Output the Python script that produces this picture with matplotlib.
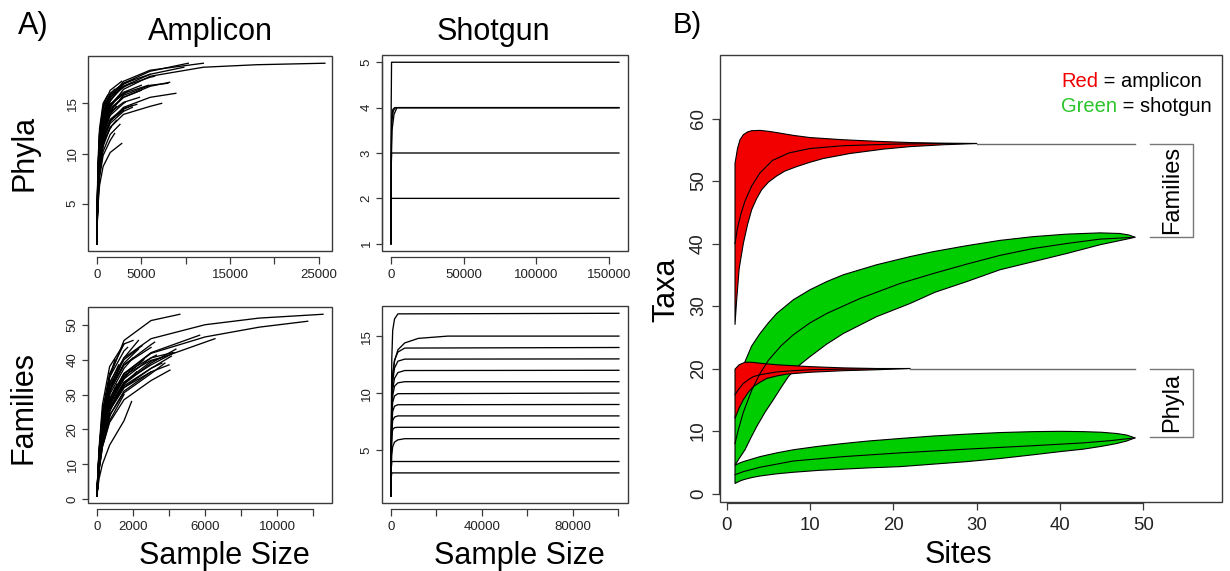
import matplotlib
matplotlib.use('Agg')
import matplotlib.pyplot as plt
from matplotlib.patches import Rectangle

plt.rcParams['font.family'] = ['Liberation Sans', 'DejaVu Sans']

# ---------------- Panel A data (rarefaction curves) ----------------
amp_phyla_x = [
    [0, 40, 120, 300, 700, 1500, 3000, 6000, 12000, 18000, 25700],
    [0, 40, 120, 300, 700, 1500, 3000, 6000, 12000],
    [0, 40, 120, 300, 700, 1500, 3000, 6000, 10300],
    [0, 40, 120, 300, 700, 1500, 3000, 6000, 8000],
    [0, 40, 120, 300, 700, 1500, 3000, 6000, 8900],
    [0, 40, 120, 300, 700, 1500, 3000, 6000, 7300],
    [0, 40, 120, 300, 700, 1500, 2800],
    [0, 40, 120, 300, 700, 1500, 2000],
    [0, 40, 120, 300, 700, 1500, 2200],
    [0, 40, 120, 300, 700, 1500, 3000],
    [0, 40, 120, 300, 700, 1500, 3000, 5000],
    [0, 40, 120, 300, 700, 1500, 3000, 6000, 6500],
    [0, 40, 120, 300, 700, 1500, 3000, 4200],
    [0, 40, 120, 300, 700, 1500, 3000, 3500],
    [0, 40, 120, 300, 700, 1500],
    [0, 40, 120, 300, 700, 1300],
    [0, 40, 120, 300, 700, 1500, 1800],
    [0, 40, 120, 300, 700, 1500, 3000, 4800],
    [0, 40, 120, 300, 700, 1500, 3000, 5800],
    [0, 40, 120, 300, 700, 1500, 3000, 4500],
    [0, 40, 120, 300, 700, 1500, 3000, 3200],
    [0, 40, 120, 300, 700, 1500, 1600],
    [0, 40, 120, 300, 700, 1200],
    [0, 40, 120, 300, 700, 1500, 3000, 3800],
    [0, 40, 120, 300, 700, 1500, 3000, 6000, 9800],
    [0, 40, 120, 300, 700, 1500, 2800],
    [0, 40, 120, 300, 700, 1500, 3000, 4000],
    [0, 40, 120, 300, 700, 1500, 2600],
    [0, 40, 120, 300, 700, 1000],
    [0, 40, 120, 300, 700, 1500, 3000, 6000],
    [0, 40, 120, 300, 700, 1500, 3000, 6000, 8200],
    [0, 40, 120, 300, 700, 1500, 3000, 5000],
    [0, 40, 120, 300, 700, 1200],
    [0, 40, 120, 300, 700, 1500, 2400],
    [0, 40, 120, 300, 700, 1000],
    [0, 40, 120, 300, 700, 1500, 2000],
    [0, 40, 120, 300, 700, 1500, 3000, 4000],
    [0, 40, 120, 300, 700, 900],
    [0, 40, 120, 300, 700, 1500, 2200],
    [0, 40, 120, 300, 600],
]
amp_phyla_y = [
    [1, 3.5, 6.2, 9.2, 12, 14.6, 16.4, 17.7, 18.6, 18.85, 19],
    [1, 4, 7, 10.5, 13.5, 15.5, 17.2, 18.3, 19],
    [1, 3.8, 6.6, 10, 13, 15.2, 17, 18.2, 19],
    [1, 3.6, 6.3, 9.3, 12, 14.2, 15.8, 16.8, 17],
    [1, 3.4, 6, 8.8, 11.3, 13.2, 14.6, 15.6, 16],
    [1, 3.2, 5.6, 8.3, 10.7, 12.6, 13.9, 14.7, 15],
    [1, 2.8, 4.7, 6.8, 8.7, 10.1, 11],
    [1, 3, 5.2, 7.6, 9.8, 11.3, 12],
    [1, 3.3, 5.8, 8.6, 11, 12.6, 13.3],
    [1, 3.5, 6.2, 9.2, 11.6, 13.3, 14.3],
    [1, 3.8, 6.8, 10, 12.7, 14.5, 15.6, 16.3],
    [1, 4.2, 7.4, 11, 13.8, 15.6, 16.7, 17.6, 17.7],
    [1, 4.2, 7.5, 11.2, 14, 15.8, 16.9, 17.4],
    [1, 4, 7, 10.5, 13.2, 14.9, 15.9, 16.2],
    [1, 4.5, 8, 11.5, 13.8, 15.3],
    [1, 4, 6.8, 9.8, 12, 13.4],
    [1, 4, 7, 10.2, 12.6, 14.1, 14.5],
    [1, 3.6, 6.4, 9.6, 12.3, 14.1, 15.1, 15.6],
    [1, 3.7, 6.6, 10, 12.8, 14.8, 16, 16.8],
    [1, 3.4, 6, 9, 11.6, 13.4, 14.5, 14.9],
    [1, 3.6, 6.4, 9.5, 12, 13.8, 15, 15.1],
    [1, 3.4, 6, 8.8, 11, 12.5, 12.6],
    [1, 5, 9, 12.5, 15, 15.8],
    [1, 4.2, 7.4, 11, 13.8, 15.6, 16.6, 17],
    [1, 4, 7, 10.5, 13.3, 15.3, 16.7, 17.9, 18.6],
    [1, 4.6, 8.2, 12, 14.7, 16.3, 17.2],
    [1, 3.4, 6, 9, 11.5, 13.3, 14.4, 14.8],
    [1, 3, 5.3, 7.9, 10.2, 11.9, 12.9],
    [1, 3.8, 6.6, 9.6, 11.8, 12.8],
    [1, 4.5, 8, 11.8, 14.5, 16, 17, 17.9],
    [1, 3.6, 6.4, 9.6, 12.4, 14.3, 15.6, 16.7, 17.1],
    [1, 3.8, 6.8, 10.2, 13, 14.9, 16.1, 16.8],
    [1, 4.2, 7.6, 11.2, 13.8, 14.9],
    [1, 3.8, 6.8, 10.3, 13, 14.8, 15.7],
    [1, 3.2, 5.6, 8.4, 10.8, 11.8],
    [1, 4.4, 7.8, 11.6, 14.2, 15.9, 16.4],
    [1, 3.3, 5.8, 8.7, 11.3, 13, 14.2, 14.6],
    [1, 4.6, 8.2, 12, 14.6, 15.2],
    [1, 3.6, 6.4, 9.4, 12, 13.9, 14.7],
    [1, 3.6, 6.5, 9.5, 11.5],
]

amp_fam_x = [
    [0, 40, 120, 300, 700, 1500, 3000, 6000, 9000, 12550],
    [0, 40, 120, 300, 700, 1500, 3000, 6000, 9000, 11700],
    [0, 40, 120, 300, 700, 1500, 3000, 4600],
    [0, 40, 120, 300, 700, 1500, 3000, 6000, 6550],
    [0, 40, 120, 300, 700, 1500, 3000, 5700],
    [0, 40, 120, 300, 700, 1500, 3000, 4050],
    [0, 40, 120, 300, 700, 1500, 1920],
    [0, 40, 120, 300, 700, 1500, 3000, 4380],
    [0, 40, 120, 300, 700, 1500, 3000, 4290],
    [0, 40, 120, 300, 700, 1500, 3000, 4130],
    [0, 40, 120, 300, 700, 1500, 3000, 3770],
    [0, 40, 120, 300, 700, 1500, 3000, 3200],
    [0, 40, 120, 300, 700, 1500, 2300],
    [0, 40, 120, 300, 700, 1500],
    [0, 40, 120, 300, 700, 1300],
    [0, 40, 120, 300, 700, 1200],
    [0, 40, 120, 300, 700, 1100],
    [0, 40, 120, 300, 700, 1500, 2600],
    [0, 40, 120, 300, 700, 1500, 3000, 3600],
    [0, 40, 120, 300, 700, 1500, 3000],
    [0, 40, 120, 300, 700, 1500],
    [0, 40, 120, 300, 700, 1500, 2300],
    [0, 40, 120, 300, 700, 1500, 2000],
    [0, 40, 120, 300, 700, 1000],
    [0, 40, 120, 300, 700, 1500, 1800],
    [0, 40, 120, 300, 700, 1500, 3000, 4200],
    [0, 40, 120, 300, 700, 900],
    [0, 40, 120, 300, 700, 1500, 2000],
    [0, 40, 120, 300, 700, 1500, 3000, 3500],
    [0, 40, 120, 300, 700, 1500, 3000],
    [0, 40, 120, 300, 700, 1500, 3000, 4000],
    [0, 40, 120, 300, 700, 900],
    [0, 40, 120, 300, 700, 1000],
    [0, 40, 120, 300, 700, 1500, 2500],
    [0, 40, 120, 300, 700, 1200],
    [0, 40, 120, 300, 700, 1500, 2200],
    [0, 40, 120, 300, 700, 800],
    [0, 40, 120, 300, 700, 1500, 3000, 3300],
    [0, 40, 120, 300, 700, 1500, 1700],
    [0, 40, 120, 300, 600],
]
amp_fam_y = [
    [1, 6, 13, 22, 32, 40.5, 46, 50, 51.9, 53],
    [1, 5, 11, 19, 28, 36, 41.8, 46.5, 49.3, 51],
    [1, 6.5, 14, 24, 35, 45.5, 51.2, 53],
    [1, 4.6, 10, 17.5, 26, 33.5, 39.5, 45, 46],
    [1, 5, 11, 19, 28, 36, 42, 47],
    [1, 4, 8.5, 15, 22, 28.5, 34, 37],
    [1, 3, 6, 10, 15.5, 22.5, 28],
    [1, 4.5, 10, 17.5, 26, 33, 39, 43],
    [1, 4.8, 10.5, 18.5, 27, 33.5, 38.5, 42],
    [1, 4.5, 10, 17.5, 25.5, 32, 37.5, 41],
    [1, 4.3, 9.5, 16.5, 24, 30.5, 36, 39],
    [1, 5.5, 12, 21, 31, 38.5, 44.3, 45],
    [1, 6, 13, 23, 33.5, 40.5, 45.5],
    [1, 6.5, 14, 25, 36, 44.5],
    [1, 5.5, 12, 20.5, 31, 38],
    [1, 4.5, 9.5, 17, 25, 31],
    [1, 5, 10.5, 18.5, 27.5, 33],
    [1, 5, 11, 19, 28, 35, 40],
    [1, 4.5, 10, 17, 25.5, 32.5, 37.5, 39],
    [1, 4.5, 10, 17, 25.5, 32, 36.5],
    [1, 4, 8.5, 15, 22.5, 30],
    [1, 5.5, 12, 21, 31, 39, 43],
    [1, 7, 15, 27, 38, 44.5, 45.5],
    [1, 6.5, 14, 25, 35, 40],
    [1, 5, 10.5, 18.5, 27.5, 34.5, 36.5],
    [1, 5, 11, 19.5, 29, 36, 40.5, 42],
    [1, 4.5, 9.5, 17, 25.5, 29.5],
    [1, 5.2, 11.5, 20, 30, 37.5, 40.5],
    [1, 5, 10.8, 19, 28.5, 35.5, 39.8, 40.5],
    [1, 5.5, 12, 21, 31, 38.5, 43.5],
    [1, 4.2, 9, 16, 24, 31, 36.5, 38.5],
    [1, 5.5, 12, 21, 30, 34],
    [1, 5, 11, 19, 28, 32],
    [1, 5.8, 12.5, 22, 32.5, 40, 44],
    [1, 6, 13, 23, 33, 38.5],
    [1, 4.5, 9.8, 17.3, 26, 33, 36.5],
    [1, 4, 8.8, 15.8, 23.5, 25],
    [1, 4.8, 10.5, 18.5, 27.5, 34.5, 40.5, 41.3],
    [1, 6.2, 13.5, 24, 35, 42.5, 43.5],
    [1, 5, 10.5, 18.5, 25],
]

shot_phyla_x = [
    [0, 50, 300, 157000],
    [0, 100, 500, 1500, 3000, 157000],
    [0, 150, 600, 2000, 4000, 157000],
    [0, 100, 400, 1200, 2500, 157000],
    [0, 100, 300, 157000],
    [0, 60, 200, 157000],
]
shot_phyla_y = [
    [1, 4, 5, 5],
    [1, 3, 3.7, 3.93, 4, 4],
    [1, 2.8, 3.5, 3.85, 4, 4],
    [1, 3.2, 3.8, 3.96, 4, 4],
    [1, 2.7, 3, 3],
    [1, 1.8, 2, 2],
]

shot_fam_x = [
    [0, 100, 300, 700, 1500, 3000, 100400],
    [0, 100, 300, 700, 1500, 3000, 6000, 12000, 25000, 100400],
    [0, 100, 300, 700, 1500, 3000, 6000, 100400],
    [0, 100, 300, 700, 1500, 3000, 6000, 100400],
    [0, 100, 300, 700, 1500, 3000, 6000, 100400],
    [0, 100, 300, 700, 1500, 3000, 6000, 100400],
    [0, 100, 300, 700, 1500, 3000, 100400],
    [0, 100, 300, 700, 1500, 3000, 100400],
    [0, 100, 300, 700, 1500, 3000, 100400],
    [0, 100, 300, 700, 1500, 3000, 100400],
    [0, 100, 300, 700, 1500, 3000, 6000, 100400],
    [0, 100, 300, 100400],
    [0, 100, 300, 100400],
]
shot_fam_y = [
    [1, 8, 13, 15.5, 16.5, 16.95, 17],
    [1, 6, 9.5, 11.5, 12.8, 13.8, 14.4, 14.8, 15, 15],
    [1, 6, 9.5, 11.6, 12.9, 13.6, 13.95, 14],
    [1, 5.8, 9, 11, 12.2, 12.8, 12.98, 13],
    [1, 5.5, 8.5, 10.3, 11.3, 11.8, 11.98, 12],
    [1, 5.5, 8.2, 9.8, 10.6, 10.9, 11, 11],
    [1, 5.5, 8, 9.2, 9.75, 9.95, 10],
    [1, 5, 7.3, 8.4, 8.85, 8.98, 9],
    [1, 4.8, 6.8, 7.6, 7.9, 8, 8],
    [1, 4.5, 6.2, 6.8, 6.97, 7, 7],
    [1, 3.5, 4.6, 5.3, 5.7, 5.9, 6, 6],
    [1, 3.5, 4, 4],
    [1, 2.7, 3, 3],
]

# ---------------- Panel B data (accumulation bands) ----------------
red_fam_upper_x = [1, 1.3, 1.6, 2, 2.5, 3, 4, 5, 6, 8, 10, 14, 18, 22, 26, 30]
red_fam_upper_y = [52.8, 55.2, 56.6, 57.4, 57.85, 58.05, 58.1, 57.95, 57.75, 57.3, 56.95, 56.6, 56.35, 56.15, 56.05, 56.0]
red_fam_lower_x = [1, 1.2, 1.5, 2, 2.5, 3, 3.6, 4.2, 5, 6, 7, 8.4, 10, 11.6, 14.8, 18.8, 22, 26, 30]
red_fam_lower_y = [27, 31, 36, 40, 43, 45.4, 47.2, 48.6, 49.8, 50.8, 51.6, 52.3, 53.0, 53.6, 54.4, 55.1, 55.5, 55.8, 56.0]
red_fam_mean_x = [1, 1.3, 1.7, 2.2, 3, 4, 5.5, 7.5, 10, 14, 20, 26, 30, 49]
red_fam_mean_y = [40, 42.5, 44.7, 46.8, 49.2, 51.3, 53.3, 54.5, 55.2, 55.65, 55.9, 56, 56, 56]

red_phy_upper_x = [1, 1.5, 2.2, 3, 4, 6, 10, 14, 18, 22]
red_phy_upper_y = [19.9, 20.6, 21.0, 21.0, 20.85, 20.6, 20.3, 20.1, 20.0, 20.0]
red_phy_lower_x = [1, 1.5, 2, 2.6, 3.2, 4, 4.8, 6, 7.2, 10, 14, 18, 22]
red_phy_lower_y = [12, 13.7, 15, 16.2, 17.1, 17.8, 18.4, 18.8, 19.1, 19.4, 19.65, 19.8, 20]
red_phy_mean_x = [1, 1.5, 2, 2.6, 3.2, 4, 6, 8, 10, 14, 18, 22, 49]
red_phy_mean_y = [15.8, 16.8, 17.6, 18.2, 18.7, 19.0, 19.45, 19.65, 19.8, 19.9, 19.95, 20, 20]

green_fam_upper_x = [1, 1.5, 2.2, 3, 4, 5, 6, 8, 10, 12, 14, 18, 22, 24.8, 28.8, 32.8, 36.8, 40.8, 44.8, 47.2, 48.3, 49]
green_fam_upper_y = [12, 17, 21.1, 23.6, 25.6, 27.3, 28.8, 31, 32.6, 33.9, 35, 36.6, 37.9, 38.7, 39.65, 40.5, 41.1, 41.5, 41.7, 41.6, 41.35, 41]
green_fam_lower_x = [1, 1.5, 2.2, 2.9, 3.6, 4.6, 5.6, 6.5, 7.4, 8.6, 10, 12, 14, 18, 22, 25, 28.8, 32.8, 36.8, 40.8, 44.8, 48, 49]
green_fam_lower_y = [4.5, 5.6, 7.0, 8.9, 10.7, 13.0, 15.0, 16.9, 18.7, 20.4, 21.9, 23.9, 25.6, 28.3, 30.4, 32.2, 33.9, 35.8, 37.1, 38.4, 39.8, 40.7, 41]
green_fam_mean_x = [1, 1.4, 2, 3, 4, 5, 6.5, 8, 10, 12, 16, 20.8, 24.8, 28.8, 32.8, 36.8, 40.8, 44.8, 49]
green_fam_mean_y = [8, 10.2, 13, 16.5, 19.2, 21.3, 23.6, 25.4, 27.3, 28.8, 31.2, 33.6, 35.2, 36.7, 38.1, 39.2, 40, 40.7, 41]

green_phy_upper_x = [1, 1.5, 2, 3, 4, 6, 8, 11, 14, 17, 20.8, 24.8, 28.8, 32.8, 36.8, 40, 42.8, 45, 46.8, 48, 49]
green_phy_upper_y = [4.5, 4.85, 5.1, 5.5, 5.9, 6.5, 7.0, 7.55, 8.0, 8.4, 8.8, 9.2, 9.5, 9.75, 9.9, 9.95, 9.9, 9.8, 9.6, 9.35, 8.9]
green_phy_lower_x = [1, 1.5, 2, 3, 4, 6, 8, 11, 14, 17, 20.8, 24.8, 28.8, 32.8, 36.8, 40, 42.8, 45, 46.8, 48, 49]
green_phy_lower_y = [1.6, 1.95, 2.2, 2.55, 2.8, 3.15, 3.4, 3.7, 3.9, 4.1, 4.3, 4.7, 5.1, 5.6, 6.2, 6.7, 7.1, 7.55, 8.0, 8.4, 8.9]
green_phy_mean_x = [1, 2, 4, 8, 14, 20.8, 28.8, 36.8, 42.8, 46, 49]
green_phy_mean_y = [3.0, 3.5, 4.2, 5.2, 5.9, 6.5, 7.1, 7.65, 8.1, 8.45, 8.9]

fam_bracket_y = [56, 41]
phy_bracket_y = [20, 9]
bracket_x = [50.8, 55.9]

# ---------------- figure ----------------
W, H = 1230, 571
fig = plt.figure(figsize=(W / 100, H / 100), dpi=100)
FRAME = '#3a3a3a'
PX = 0.72  # points per pixel at dpi 100


def px_axes(l, t, r, b):
    return fig.add_axes([l / W, 1 - b / H, (r - l) / W, (b - t) / H])


def fx(x):
    return x / W


def fy(y):
    return 1 - y / H


def r_style(ax, xlim, ylim, xticks, xlabels, yticks, ylabels, xoff, yoff,
            ticklen, labelsize, xpad, ypad):
    ax.set_xlim(*xlim)
    ax.set_ylim(*ylim)
    for s in ['top', 'right']:
        ax.spines[s].set_visible(False)
    ax.spines['left'].set_position(('outward', yoff * PX))
    ax.spines['bottom'].set_position(('outward', xoff * PX))
    ax.spines['left'].set_bounds(yticks[0], yticks[-1])
    ax.spines['bottom'].set_bounds(xticks[0], xticks[-1])
    for s in ['left', 'bottom']:
        ax.spines[s].set_color(FRAME)
        ax.spines[s].set_linewidth(0.9)
    ax.add_patch(Rectangle((0, 0), 1, 1, transform=ax.transAxes, fill=False,
                           ec=FRAME, lw=1.0, clip_on=False, zorder=10))
    ax.set_xticks(xticks)
    ax.set_xticklabels(xlabels)
    ax.set_yticks(yticks)
    ax.set_yticklabels(ylabels, rotation=90, va='center')
    ax.tick_params(axis='both', direction='out', length=ticklen * PX, width=0.9,
                   color=FRAME, labelsize=labelsize, labelcolor='#222222')
    ax.tick_params(axis='x', pad=xpad * PX)
    ax.tick_params(axis='y', pad=ypad * PX)


def curves(ax, xs, ys):
    for x, y in zip(xs, ys):
        ax.plot(x, y, color='black', lw=0.95, solid_joinstyle='round')


# Panel A
ax1 = px_axes(88, 56, 332, 251)
curves(ax1, amp_phyla_x, amp_phyla_y)
r_style(ax1, (-1000, 26500), (0.28, 19.72),
        [0, 5000, 10000, 15000, 20000, 25000], ['0', '5000', '', '15000', '', '25000'],
        [5, 10, 15], ['5', '10', '15'], 6, 0, 6.5, 9.5, 6, 3)

ax2 = px_axes(382, 55, 628, 251)
curves(ax2, shot_phyla_x, shot_phyla_y)
r_style(ax2, (-6280, 163280), (0.84, 5.16),
        [0, 50000, 100000, 150000], ['0', '50000', '100000', '150000'],
        [1, 2, 3, 4, 5], ['1', '2', '3', '4', '5'], 6, 0, 6.5, 9.5, 6, 3)

ax3 = px_axes(88, 307, 332, 503)
curves(ax3, amp_fam_x, amp_fam_y)
r_style(ax3, (-500, 13050), (-1.08, 55.08),
        [0, 2000, 4000, 6000, 8000, 10000, 12000], ['0', '2000', '', '6000', '', '10000', ''],
        [0, 10, 20, 30, 40, 50], ['0', '10', '20', '30', '40', '50'], 6, 0, 6.5, 9.5, 6, 3)

ax4 = px_axes(382, 306, 628, 503)
curves(ax4, shot_fam_x, shot_fam_y)
r_style(ax4, (-4016, 104416), (0.36, 17.64),
        [0, 20000, 40000, 60000, 80000, 100000], ['0', '', '40000', '', '80000', ''],
        [5, 10, 15], ['5', '10', '15'], 6, 0, 6.5, 9.5, 6, 3)

fig.text(fx(18), fy(34), 'A)', fontsize=22, ha='left', va='baseline')
fig.text(fx(210), fy(40), 'Amplicon', fontsize=22, ha='center', va='baseline')
fig.text(fx(493), fy(40), 'Shotgun', fontsize=22, ha='center', va='baseline')
fig.text(fx(24), fy(153), 'Phyla', fontsize=22, rotation=90, ha='center', va='center')
fig.text(fx(24), fy(407), 'Families', fontsize=22, rotation=90, ha='center', va='center')
fig.text(fx(224), fy(564), 'Sample Size', fontsize=22, ha='center', va='baseline')
fig.text(fx(519), fy(564), 'Sample Size', fontsize=22, ha='center', va='baseline')

# Panel B
axb = px_axes(720, 55, 1222, 501.7)


def band(ax, ux, uy, lx, ly, mx, my, color, gray_tail):
    px_ = list(ux) + list(lx[::-1])
    py_ = list(uy) + list(ly[::-1])
    ax.fill(px_, py_, facecolor=color, edgecolor='black', lw=0.8, zorder=2)
    if gray_tail:
        ax.plot(mx[:-1], my[:-1], color='black', lw=0.8, zorder=3)
        ax.plot(mx[-2:], my[-2:], color='#6a6a6a', lw=1.0, zorder=3)
    else:
        ax.plot(mx, my, color='black', lw=0.8, zorder=3)


GREEN = '#00CD00'
RED = '#F20000'
band(axb, green_fam_upper_x, green_fam_upper_y, green_fam_lower_x, green_fam_lower_y,
     green_fam_mean_x, green_fam_mean_y, GREEN, False)
band(axb, green_phy_upper_x, green_phy_upper_y, green_phy_lower_x, green_phy_lower_y,
     green_phy_mean_x, green_phy_mean_y, GREEN, False)
band(axb, red_fam_upper_x, red_fam_upper_y, red_fam_lower_x, red_fam_lower_y,
     red_fam_mean_x, red_fam_mean_y, RED, True)
band(axb, red_phy_upper_x, red_phy_upper_y, red_phy_lower_x, red_phy_lower_y,
     red_phy_mean_x, red_phy_mean_y, RED, True)

for by in (fam_bracket_y, phy_bracket_y):
    axb.plot([bracket_x[0], bracket_x[1], bracket_x[1], bracket_x[0]],
             [by[0], by[0], by[1], by[1]], color='#777777', lw=1.0, clip_on=False)
axb.text(53.4, sum(fam_bracket_y) / 2, 'Families', rotation=90, fontsize=17,
         ha='center', va='center')
axb.text(53.4, sum(phy_bracket_y) / 2, 'Phyla', rotation=90, fontsize=17,
         ha='center', va='center')

r_style(axb, (-0.8, 59.44), (-1.31, 70.16),
        [0, 10, 20, 30, 40, 50], ['0', '10', '20', '30', '40', '50'],
        [0, 10, 20, 30, 40, 50, 60], ['0', '10', '20', '30', '40', '50', '60'],
        1, 1, 7, 13.4, 7, 5)

t1 = fig.text(fx(1061), fy(87), 'Red', color=RED, fontsize=14.5, ha='left', va='baseline')
axb.annotate(' = amplicon', xy=(1, 0), xycoords=t1, fontsize=14.5, ha='left', va='bottom',
             color='black', annotation_clip=False)
t2 = fig.text(fx(1061), fy(112), 'Green', color='#2BC42B', fontsize=14.5, ha='left', va='baseline')
axb.annotate(' = shotgun', xy=(1, 0), xycoords=t2, fontsize=14.5, ha='left', va='bottom',
             color='black', annotation_clip=False)

fig.text(fx(673), fy(33), 'B)', fontsize=21, ha='left', va='baseline')
fig.text(fx(666), fy(290), 'Taxa', fontsize=22, rotation=90, ha='center', va='center')
fig.text(fx(958), fy(563), 'Sites', fontsize=22, ha='center', va='baseline')

fig.savefig('out.png', dpi=100)
